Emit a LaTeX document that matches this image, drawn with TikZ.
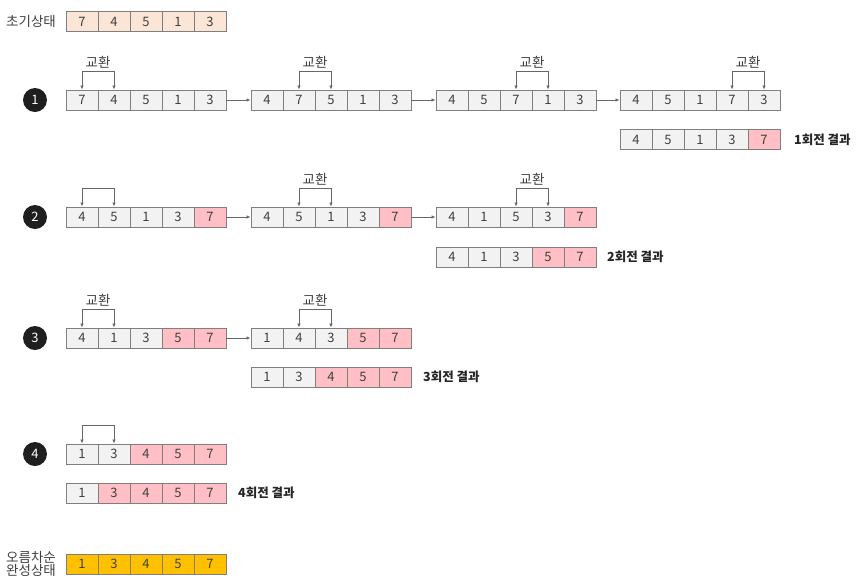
\documentclass[tikz,border=0pt]{standalone}
\usepackage{fontspec}
\setmainfont{Noto Sans CJK KR}
\usetikzlibrary{calc,arrows.meta}
\definecolor{cellgray}{HTML}{F2F2F2}
\definecolor{cellpink}{HTML}{FFBFC4}
\definecolor{cellpeach}{HTML}{FBE5D6}
\definecolor{cellgold}{HTML}{FFC000}
\definecolor{edgegray}{HTML}{7F7F7F}
\definecolor{txtgray}{HTML}{404040}
\tikzset{
  cell/.style={draw=edgegray, line width=0.9pt, minimum width=32pt, minimum height=20pt, inner sep=0pt, font=\fontsize{13}{14}\selectfont, text=txtgray},
  gc/.style={cell, fill=cellgray},
  pc/.style={cell, fill=cellpink},
  oc/.style={cell, fill=cellpeach},
  yc/.style={cell, fill=cellgold},
  flow/.style={draw=edgegray!80!black, line width=0.7pt, -{Latex[length=4pt,width=3.5pt]}},
  swapline/.style={draw=edgegray!80!black, line width=0.7pt, {Latex[length=4pt,width=3.5pt]}-{Latex[length=4pt,width=3.5pt]}},
  swaplbl/.style={font=\fontsize{13.5}{14}\selectfont, text=txtgray, inner sep=0pt},
  stepnum/.style={circle, fill=black!88, text=white, minimum size=24pt, inner sep=0pt, font=\fontsize{13}{14}\selectfont},
  reslbl/.style={anchor=west, font=\bfseries\fontsize{12.5}{14}\selectfont, text=black!85, inner sep=0pt},
  sidelbl/.style={anchor=west, font=\fontsize{13.5}{12.5}\selectfont, text=txtgray, inner sep=0pt, align=left}
}
\newcommand\drawarr[4]{%
  \foreach \v/\s [count=\i] in {#4} {\node[\s] (#1-\i) at ({#2+16+32*(\i-1)},#3) {\v};}}
\newcommand\swapmark[4]{% name, i, j, label
  \draw[swapline] (#1-#2.north) -- ++(0,-18) -| (#1-#3.north);
  \coordinate (#1-top) at ($(#1-#2.north)!0.5!(#1-#3.north)+(0,-18)$);
  \node[swaplbl] (#1-lbl) at ($(#1-top)+(0,-9)$) {#4};}
\begin{document}
\begin{tikzpicture}[x=1pt,y=-1pt]
\useasboundingbox (0,0) rectangle (866,587);
% initial
\node[sidelbl] (init) at (6,21) {초기상태};
\drawarr{ini}{66}{21.5}{7/oc,4/oc,5/oc,1/oc,3/oc}
% row 1
\node[stepnum] (s1) at (35,100) {1};
\drawarr{a11}{66}{100}{7/gc,4/gc,5/gc,1/gc,3/gc}
\drawarr{a12}{251}{100}{4/gc,7/gc,5/gc,1/gc,3/gc}
\drawarr{a13}{436}{100}{4/gc,5/gc,7/gc,1/gc,3/gc}
\drawarr{a14}{620}{100}{4/gc,5/gc,1/gc,7/gc,3/gc}
\swapmark{a11}{1}{2}{교환}
\swapmark{a12}{2}{3}{교환}
\swapmark{a13}{3}{4}{교환}
\swapmark{a14}{4}{5}{교환}
\draw[flow] (a11-5.east) -- (a12-1.west);
\draw[flow] (a12-5.east) -- (a13-1.west);
\draw[flow] (a13-5.east) -- (a14-1.west);
\drawarr{r1}{620}{139.5}{4/gc,5/gc,1/gc,3/gc,7/pc}
\node[reslbl] (l1) at (794,139.5) {1회전 결과};
% row 2
\node[stepnum] (s2) at (35,217) {2};
\drawarr{a21}{66}{217}{4/gc,5/gc,1/gc,3/gc,7/pc}
\drawarr{a22}{251}{217}{4/gc,5/gc,1/gc,3/gc,7/pc}
\drawarr{a23}{436}{217}{4/gc,1/gc,5/gc,3/gc,7/pc}
\draw[swapline] (a21-1.north) -- ++(0,-18) -| (a21-2.north);
\swapmark{a22}{2}{3}{교환}
\swapmark{a23}{3}{4}{교환}
\draw[flow] (a21-5.east) -- (a22-1.west);
\draw[flow] (a22-5.east) -- (a23-1.west);
\drawarr{r2}{436}{257}{4/gc,1/gc,3/gc,5/pc,7/pc}
\node[reslbl] (l2) at (607,257) {2회전 결과};
% row 3
\node[stepnum] (s3) at (35,338) {3};
\drawarr{a31}{66}{338}{4/gc,1/gc,3/gc,5/pc,7/pc}
\drawarr{a32}{251}{338}{1/gc,4/gc,3/gc,5/pc,7/pc}
\swapmark{a31}{1}{2}{교환}
\swapmark{a32}{2}{3}{교환}
\draw[flow] (a31-5.east) -- (a32-1.west);
\drawarr{r3}{251}{377}{1/gc,3/gc,4/pc,5/pc,7/pc}
\node[reslbl] (l3) at (423,377) {3회전 결과};
% row 4
\node[stepnum] (s4) at (35,454) {4};
\drawarr{a41}{66}{454}{1/gc,3/gc,4/pc,5/pc,7/pc}
\draw[swapline] (a41-1.north) -- ++(0,-18) -| (a41-2.north);
\drawarr{r4}{66}{493}{1/gc,3/pc,4/pc,5/pc,7/pc}
\node[reslbl] (l4) at (238,493) {4회전 결과};
% final
\node[sidelbl] (fin) at (6,564) {오름차순\\완성상태};
\drawarr{fa}{66}{564}{1/yc,3/yc,4/yc,5/yc,7/yc}
\end{tikzpicture}
\end{document}
